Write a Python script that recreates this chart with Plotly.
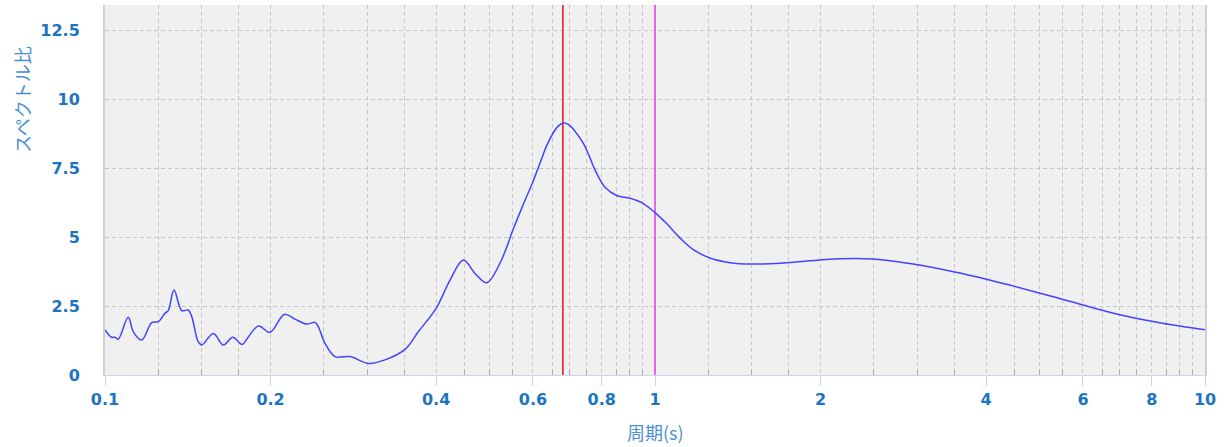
import plotly.graph_objects as go

# Data
period = [0.100, 0.1028, 0.1043, 0.1057, 0.1102, 0.1126, 0.1166, 0.1216, 0.1250, 0.1285,
          0.1303, 0.1335, 0.1379, 0.1417, 0.1438, 0.1477, 0.1499, 0.1574, 0.1641, 0.1707,
          0.1760, 0.1777, 0.1900, 0.1995, 0.2118, 0.2215, 0.2327, 0.2409, 0.2443, 0.2512,
          0.2619, 0.2790, 0.3011, 0.3229, 0.3511, 0.3712, 0.4000, 0.4240, 0.4482, 0.4707,
          0.4943, 0.5226, 0.5525, 0.5762, 0.6006, 0.6178, 0.6354, 0.6533, 0.6660, 0.6813,
          0.6960, 0.7105, 0.7405, 0.7595, 0.7780, 0.8112, 0.8520, 0.9005, 0.9458, 1.000,
          1.050, 1.110, 1.174, 1.259, 1.369, 1.499, 1.688, 1.888, 2.170, 2.491,
          2.945, 3.489, 4.006, 4.527, 5.278, 6.153, 7.170, 8.361, 10.0]
ratio = [1.64, 1.37, 1.37, 1.30, 2.10, 1.57, 1.27, 1.90, 1.94, 2.24,
         2.34, 3.09, 2.34, 2.36, 2.12, 1.21, 1.09, 1.51, 1.09, 1.37,
         1.15, 1.11, 1.78, 1.55, 2.20, 2.03, 1.85, 1.91, 1.75, 1.15,
         0.67, 0.67, 0.42, 0.55, 0.93, 1.57, 2.42, 3.45, 4.18, 3.69,
         3.35, 4.06, 5.30, 6.20, 7.05, 7.69, 8.33, 8.80, 9.03, 9.15,
         9.10, 8.93, 8.42, 7.95, 7.45, 6.82, 6.52, 6.42, 6.26, 5.90,
         5.50, 4.98, 4.55, 4.25, 4.08, 4.03, 4.06, 4.14, 4.22, 4.21,
         4.03, 3.75, 3.48, 3.21, 2.85, 2.48, 2.14, 1.88, 1.64]

x_major_ticks = [0.1, 0.2, 0.4, 0.6, 0.8, 1, 2, 4, 6, 8, 10]
x_major_labels = ["0.1", "0.2", "0.4", "0.6", "0.8", "1", "2", "4", "6", "8", "10"]
x_minor_ticks = [0.125, 0.15, 0.175, 0.25, 0.3, 0.35, 0.45, 0.5, 0.55, 0.65, 0.7, 0.75,
                 0.85, 0.9, 0.95, 1.25, 1.5, 1.75, 2.5, 3, 3.5, 4.5, 5, 5.5, 6.5, 7, 7.5,
                 8.5, 9, 9.5]
y_ticks = [0, 2.5, 5, 7.5, 10, 12.5]
y_labels = ["0", "2.5", "5", "7.5", "10", "12.5"]
y_max = 13.44

marker_periods = [0.68, 1.0]
marker_colors = ["#e8101a", "#e83ce8"]

tick_color = "#1b75c2"
title_color = "#4b8fd2"
grid_color = "#c6c6c6"
grid_dash = "4px,3px"
font_family = "DejaVu Sans"

fig = go.Figure()
for p, c in zip(marker_periods, marker_colors):
    fig.add_trace(go.Scatter(
        x=[p, p], y=[0, y_max], mode="lines",
        line=dict(color=c, width=1.5), hoverinfo="skip", showlegend=False,
    ))

fig.add_trace(go.Scatter(
    x=period, y=ratio, mode="lines",
    line=dict(color="#4444ff", width=1.5, shape="spline", smoothing=1.0),
    hoverinfo="x+y", showlegend=False,
))

fig.update_layout(
    width=1225, height=447,
    margin=dict(l=105, r=20, t=5, b=72),
    paper_bgcolor="white", plot_bgcolor="#f0f0f0",
    font=dict(family=font_family),
    showlegend=False,
)

fig.update_xaxes(
    type="log", range=[-1, 1], automargin=False,
    tickmode="array", tickvals=x_major_ticks, ticktext=x_major_labels,
    tickfont=dict(family=font_family, size=16, color=tick_color, weight="bold"),
    ticks="outside", ticklen=10, tickcolor="#ccd6eb", tickwidth=1,
    showgrid=True, gridcolor=grid_color, griddash=grid_dash, gridwidth=1,
    showline=True, linecolor="#ccd6eb", linewidth=1,
    zeroline=False,
    minor=dict(tickmode="array", tickvals=x_minor_ticks, showgrid=True,
               gridcolor=grid_color, griddash=grid_dash, gridwidth=1,
               ticks="inside", ticklen=5, tickcolor="#aaaaaa", tickwidth=1),
)

fig.update_yaxes(
    range=[0, y_max], automargin=False,
    tickmode="array", tickvals=y_ticks, ticktext=y_labels,
    tickfont=dict(family=font_family, size=16, color=tick_color, weight="bold"),
    ticks="", ticklabelstandoff=20,
    showgrid=True, gridcolor=grid_color, griddash=grid_dash, gridwidth=1,
    showline=True, linecolor="#d0d0d0", linewidth=2, mirror=True,
    zeroline=False,
)

fig.add_annotation(text="スペクトル比", xref="paper", yref="paper",
                   x=(22 - 105) / 1100, y=(375 - 100) / 370, textangle=-90,
                   showarrow=False, xanchor="center", yanchor="middle",
                   font=dict(family="Noto Sans CJK JP", size=18, color=title_color))
fig.add_annotation(text="周期(s)", xref="paper", yref="paper",
                   x=0.5, y=(375 - 432) / 370,
                   showarrow=False, xanchor="center", yanchor="middle",
                   font=dict(family="Noto Sans CJK JP", size=18, color=title_color))

fig.write_html("out.html", config={"displayModeBar": False},
               post_script="document.body.style.margin='0px';")
